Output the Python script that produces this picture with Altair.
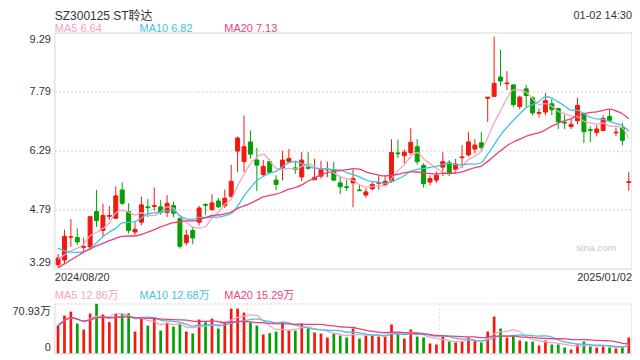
import altair as alt
import pandas as pd

FONT = "Liberation Sans, Arial, Noto Sans CJK SC, sans-serif"
RED = "#f2190e"
GREEN = "#04a004"
C_MA5 = "#f7a3c3"
C_MA10 = "#3fc3e3"
C_MA20 = "#ec3f7a"

title_text = "SZ300125 ST聆达"
time_text = "01-02 14:30"
first_date = "2024/08/20"
last_date = "2025/01/02"
price_legend = ["MA5 6.64", "MA10 6.82", "MA20 7.13"]
vol_legend = ["MA5 12.86万", "MA10 12.68万", "MA20 15.29万"]
price_top, price_bottom = 9.29, 3.29
price_mid_ticks = [4.79, 6.29, 7.79]
vol_top_label, vol_bottom_label = "70.93万", "0"
vol_max = 70.93

opens = [3.40, 3.52, 4.10, 4.09, 3.84, 3.85, 4.75, 4.27, 4.63, 4.58,
         5.30, 4.75, 4.23, 4.48, 4.87, 4.88, 4.87, 4.73, 4.90, 4.57,
         3.96, 4.27, 4.48, 4.93, 4.80, 5.02, 4.90, 5.14, 6.29, 6.02,
         6.52, 6.06, 5.69, 6.02, 5.55, 5.86, 6.02, 5.86, 5.63, 5.87,
         5.56, 5.65, 5.81, 5.80, 5.48, 5.38, 5.48, 5.30, 5.17, 5.33,
         5.47, 5.44, 5.52, 6.24, 6.17, 6.25, 6.40, 5.92, 5.50, 5.55,
         5.88, 5.99, 5.82, 6.12, 6.19, 6.34, 6.50, 7.63, 7.68, 8.17,
         8.00, 7.97, 7.42, 7.87, 7.64, 7.25, 7.28, 7.49, 7.37, 7.02,
         6.91, 7.06, 7.24, 6.83, 6.76, 6.81, 7.17, 6.75, 6.88, 5.49]
highs = [3.67, 4.29, 4.56, 4.32, 4.09, 4.64, 5.30, 4.95, 4.89, 5.39,
         5.49, 4.96, 4.48, 5.13, 5.07, 5.36, 5.04, 5.17, 5.00, 4.61,
         4.29, 4.36, 4.90, 4.96, 5.19, 5.10, 5.31, 5.94, 6.66, 7.19,
         6.81, 6.37, 6.06, 6.08, 5.67, 6.29, 6.34, 6.04, 6.26, 6.26,
         6.09, 6.04, 6.02, 6.01, 5.65, 5.56, 5.82, 5.44, 5.34, 5.52,
         5.65, 5.67, 6.59, 6.58, 6.33, 6.87, 6.59, 5.98, 5.67, 5.77,
         6.26, 6.06, 6.09, 6.44, 6.77, 6.59, 6.77, 7.66, 9.20, 8.86,
         8.32, 7.98, 7.70, 7.97, 7.68, 7.37, 7.76, 7.62, 7.39, 7.22,
         7.12, 7.64, 7.26, 6.92, 6.95, 7.20, 7.35, 6.89, 7.01, 5.76]
lows = [3.34, 3.42, 3.85, 3.90, 3.75, 3.77, 4.36, 4.11, 4.54, 4.56,
        4.92, 4.19, 4.15, 4.40, 4.61, 4.77, 4.67, 4.61, 4.61, 3.81,
        3.89, 3.92, 4.40, 4.67, 4.77, 4.84, 4.84, 5.10, 5.75, 5.76,
        6.09, 5.27, 5.65, 5.71, 5.29, 5.54, 5.98, 5.71, 5.52, 5.82,
        5.55, 5.59, 5.62, 5.52, 5.19, 5.27, 4.86, 5.27, 5.10, 5.29,
        5.31, 5.42, 5.48, 6.11, 5.98, 6.19, 5.94, 5.36, 5.42, 5.48,
        5.65, 5.65, 5.73, 5.86, 6.15, 6.23, 6.27, 7.03, 7.66, 7.95,
        7.84, 7.40, 7.35, 7.42, 7.20, 7.14, 7.20, 7.20, 6.85, 6.85,
        6.85, 6.97, 6.49, 6.52, 6.66, 6.81, 7.06, 6.67, 6.43, 5.28]
closes = [3.57, 4.12, 4.11, 3.98, 3.86, 4.62, 4.52, 4.65, 4.65, 5.15,
          4.96, 4.27, 4.30, 4.92, 4.85, 4.90, 4.73, 4.96, 4.71, 3.87,
          4.15, 4.08, 4.84, 4.91, 4.97, 4.87, 5.09, 5.52, 6.62, 6.40,
          6.21, 5.93, 5.90, 5.75, 5.44, 6.06, 6.10, 5.82, 6.06, 5.85,
          5.62, 5.82, 5.83, 5.55, 5.38, 5.36, 5.59, 5.28, 5.25, 5.44,
          5.49, 5.52, 6.25, 6.22, 6.26, 6.51, 6.02, 5.46, 5.59, 5.67,
          6.02, 5.73, 5.96, 6.14, 6.52, 6.44, 6.38, 7.66, 8.01, 8.07,
          8.02, 7.47, 7.66, 7.70, 7.26, 7.27, 7.57, 7.34, 7.03, 7.00,
          6.97, 7.45, 6.78, 6.81, 6.85, 7.12, 7.07, 6.77, 6.56, 5.51]
volumes = [40.1, 54.3, 60.0, 43.0, 34.5, 57.2, 70.93, 55.8, 44.9, 57.2,
           56.7, 57.6, 31.6, 49.6, 40.1, 52.0, 33.0, 44.0, 38.7, 43.0,
           31.6, 28.8, 48.7, 44.9, 50.1, 35.9, 44.0, 64.3, 64.3, 58.6,
           44.9, 40.1, 27.4, 29.3, 31.6, 45.4, 33.5, 33.0, 43.0, 36.4,
           30.2, 28.8, 23.1, 28.8, 26.0, 23.1, 35.9, 21.7, 26.0, 26.0,
           24.5, 24.5, 41.6, 28.8, 21.7, 34.5, 24.5, 23.1, 14.6, 13.2,
           24.5, 17.4, 16.0, 17.4, 23.1, 18.9, 16.0, 31.6, 52.9, 35.9,
           23.1, 26.0, 18.9, 17.4, 17.4, 11.8, 18.9, 13.2, 13.2, 8.9,
           6.1, 13.2, 17.4, 10.4, 8.9, 10.4, 8.9, 7.5, 10.4, 23.1]
# moving-average values for the first days (before a full window exists)
ma5_head = [3.54, 3.65, 3.75, 3.82]
ma10_head = [3.82, 3.75, 3.72, 3.71, 3.73, 3.82, 3.96, 4.11, 4.23]
ma20_head = [3.32, 3.42, 3.52, 3.62, 3.72, 3.80, 3.88, 3.94, 4.01, 4.07,
             4.12, 4.13, 4.13, 4.17, 4.23, 4.29, 4.36, 4.42, 4.47]

N = len(closes)


def pad(head):
    return head + [None] * (N - len(head))


df = pd.DataFrame({
    "idx": list(range(N)),
    "open": opens, "high": highs, "low": lows, "close": closes, "vol": volumes,
    "ma5h": pad(ma5_head), "ma10h": pad(ma10_head), "ma20h": pad(ma20_head),
})

# layout (view coordinates; the view starts 32.5px from the page top)
W = 579
PH = 236.8          # price panel height
VT, VB = 271.8, 321.8  # volume panel top / bottom
H = VB

xsc = alt.Scale(domain=[-0.5, N - 0.5], nice=False, zero=False)
psc = alt.Scale(domain=[price_bottom, price_top], range=[PH, 0], nice=False, zero=False)
vsc = alt.Scale(domain=[0, vol_max], range=[VB, VT], nice=False, zero=False)

base = alt.Chart(df)
updown = alt.condition("datum.close >= datum.open", alt.value(RED), alt.value(GREEN))
X = alt.X("idx:Q", scale=xsc, axis=None)
GRID = dict(color="#e6e6e6", strokeWidth=2, strokeDash=[2, 2])

wicks = base.mark_rule(strokeWidth=1).encode(
    x=X, y=alt.Y("low:Q", scale=psc, axis=None), y2="high:Q", color=updown,
)
bodies = base.transform_calculate(
    xl="datum.idx - 0.31", xr="datum.idx + 0.31"
).mark_rect(strokeWidth=1).encode(
    x=alt.X("xl:Q", scale=xsc, axis=None), x2="xr:Q",
    y=alt.Y("open:Q", scale=psc, axis=None), y2="close:Q",
    color=updown, stroke=updown,
)


def ma_line(field, n, head, color, scale):
    expr = "datum.m"
    if head:
        expr = f"datum.idx < {n - 1} ? datum.{head} : datum.m"
    return base.transform_window(
        m=f"mean({field})", frame=[-(n - 1), 0], sort=[alt.SortField("idx")]
    ).transform_calculate(mv=expr).mark_line(
        color=color, strokeWidth=1.3, interpolate="monotone"
    ).encode(x=X, y=alt.Y("mv:Q", scale=scale, axis=None))


def label(values, texts, scale, baseline, dy=0):
    d = pd.DataFrame({"v": values, "t": texts})
    return alt.Chart(d).mark_text(
        font=FONT, fontSize=11, color="#333333", align="right", baseline=baseline, dy=dy
    ).encode(x=alt.value(-4), y=alt.Y("v:Q", scale=scale, axis=None), text="t:N")


pgrid = alt.Chart(pd.DataFrame({"v": price_mid_ticks})).mark_rule(**GRID).encode(
    y=alt.Y("v:Q", scale=psc, axis=None), x=alt.value(0), x2=alt.value(W))

price_group = alt.layer(
    pgrid, wicks, bodies,
    ma_line("close", 5, "ma5h", C_MA5, psc),
    ma_line("close", 10, "ma10h", C_MA10, psc),
    ma_line("close", 20, "ma20h", C_MA20, psc),
    label([price_top], [f"{price_top:.2f}"], psc, "top", 1),
    label(price_mid_ticks, [f"{v:.2f}" for v in price_mid_ticks], psc, "middle"),
    label([price_bottom], [f"{price_bottom:.2f}"], psc, "bottom", -1),
)

vol_bars = base.transform_calculate(
    xl="datum.idx - 0.21", xr="datum.idx + 0.21"
).mark_rect().encode(
    x=alt.X("xl:Q", scale=xsc, axis=None), x2="xr:Q",
    y=alt.Y("vol:Q", scale=vsc, axis=None),
    y2=alt.Y2(datum=0),
    color=updown,
)
vgrid = alt.Chart(pd.DataFrame({"g": [29.5, 59.5]})).mark_rule(
    color="#e0e0e0", strokeWidth=1, strokeDash=[2, 2]
).encode(x=alt.X("g:Q", scale=xsc, axis=None), y=alt.value(VT), y2=alt.value(VB))
vtop = alt.Chart(pd.DataFrame({"v": [vol_max]})).mark_rule(**GRID).encode(
    y=alt.Y("v:Q", scale=vsc, axis=None), x=alt.value(0), x2=alt.value(W))

vol_group = alt.layer(
    vtop, vgrid, vol_bars,
    ma_line("vol", 5, None, C_MA5, vsc),
    ma_line("vol", 10, None, C_MA10, vsc),
    ma_line("vol", 20, None, C_MA20, vsc),
    label([vol_max], [vol_top_label], vsc, "top", 2),
    label([0], [vol_bottom_label], vsc, "bottom", -1),
)

one = pd.DataFrame({"k": [0]})


def txt(t, x, y, color="#333333", size=11, align="left", baseline="alphabetic"):
    return alt.Chart(one).mark_text(
        text=t, font=FONT, fontSize=size, color=color, align=align, baseline=baseline
    ).encode(x=alt.value(x), y=alt.value(y))


def rule(x0, x1, y0, y1):
    return alt.Chart(one).mark_rule(color="#d6d6d6", strokeWidth=1).encode(
        x=alt.value(x0), x2=alt.value(x1), y=alt.value(y0), y2=alt.value(y1))


annotations = [
    txt(title_text, 0, -13.5, size=12),
    txt(time_text, W, -14, size=11, align="right"),
    txt(price_legend[0], 0, -1.2, color=C_MA5),
    txt(price_legend[1], 85, -1.2, color=C_MA10),
    txt(price_legend[2], 170, -1.2, color=C_MA20),
    txt(first_date, 0, PH + 12.5),
    txt(last_date, W, PH + 12.5, align="right"),
    txt(vol_legend[0], 0, VT - 5.3, color=C_MA5),
    txt(vol_legend[1], 85, VT - 5.3, color=C_MA10),
    txt(vol_legend[2], 170, VT - 5.3, color=C_MA20),
    txt("sina.com", 543, PH - 18, color="#c9c9c9", size=10, align="center"),
    rule(0, W, 0, 0), rule(0, W, PH, PH), rule(0, 0, 0, PH), rule(W, W, 0, PH),
    rule(0, W, VB, VB), rule(0, 0, VT, VB), rule(W, W, VT, VB),
]

chart = alt.layer(price_group, vol_group, *annotations).resolve_scale(
    y="independent"
).properties(
    width=W, height=H,
    autosize=alt.AutoSizeParams(type="none"),
    padding={"left": 47, "top": 24.5, "right": 0, "bottom": 4},
).configure_view(stroke=None)

chart.save("out.html", embed_options={"renderer": "svg", "actions": False})
